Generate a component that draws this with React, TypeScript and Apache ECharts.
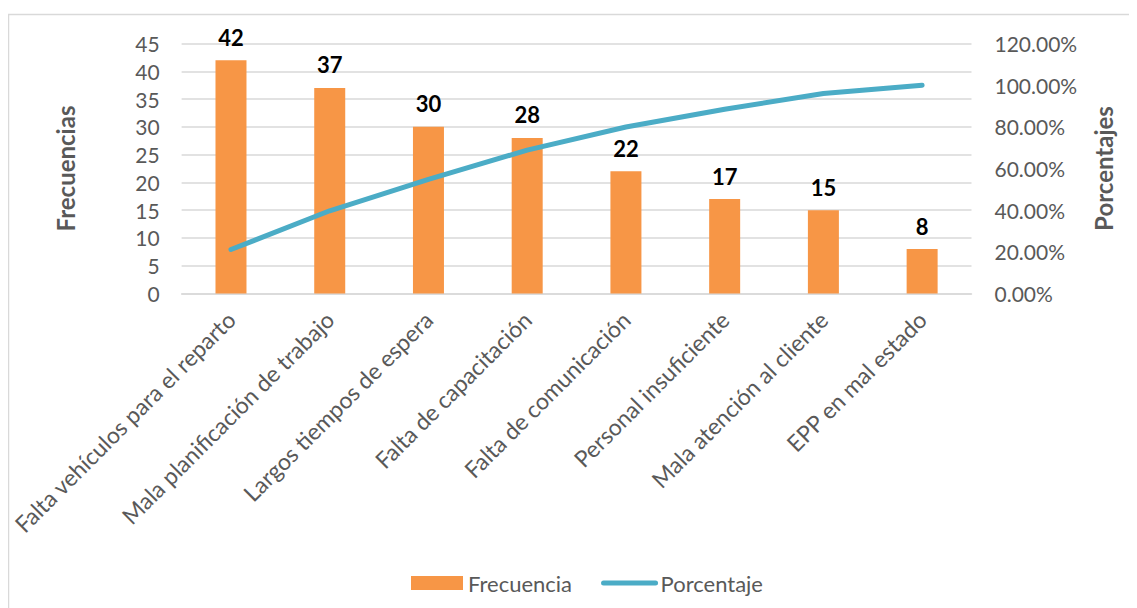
import React, { useEffect, useRef } from "react";
import * as echarts from "echarts";

const categories = [
  "Falta vehículos para el reparto",
  "Mala planificación de trabajo",
  "Largos tiempos de espera",
  "Falta de capacitación",
  "Falta de comunicación",
  "Personal insuficiente",
  "Mala atención al cliente",
  "EPP en mal estado",
];
const frecuencia = [42, 37, 30, 28, 22, 17, 15, 8];
const porcentaje = [0.2111, 0.397, 0.5477, 0.6884, 0.799, 0.8844, 0.9598, 1.0];

const FONT = "Lato, 'Noto Sans', sans-serif";
const GREY = "#595959";

export default function App() {
  const ref = useRef<HTMLDivElement>(null);
  useEffect(() => {
    document.body.style.overflow = "hidden";
    const chart = echarts.init(ref.current!, null, { renderer: "svg" });
    chart.setOption({
      animation: false,
      textStyle: { fontFamily: FONT },
      graphic: [
        {
          type: "rect",
          shape: { x: 0.5, y: 6.5, width: 1200, height: 800 },
          style: { fill: "none", stroke: "#D9D9D9", lineWidth: 1.5 },
          silent: true,
          z: -10,
        },
      ],
      grid: { left: 169.5, top: 35.5, width: 794, height: 250 },
      legend: {
        top: 559,
        left: 398,
        itemWidth: 52,
        itemHeight: 14,
        itemGap: 29,
        textStyle: { color: GREY, fontSize: 22, fontFamily: FONT },
        data: [
          { name: "Frecuencia", icon: "rect" },
          {
            name: "Porcentaje",
            itemStyle: { opacity: 0 },
            lineStyle: { width: 5, color: "#4BACC6", cap: "round" },
          },
        ],
      },
      xAxis: {
        type: "category",
        data: categories,
        axisLine: { lineStyle: { color: "#D9D9D9", width: 1.5 } },
        axisTick: { show: false },
        axisLabel: {
          rotate: 45,
          interval: 0,
          margin: 22,
          color: GREY,
          fontSize: 23,
          fontFamily: FONT,
        },
      },
      yAxis: [
        {
          type: "value",
          min: 0,
          max: 45,
          interval: 5,
          name: "Frecuencias",
          nameLocation: "middle",
          nameGap: 104,
          nameTextStyle: { color: GREY, fontSize: 24, fontWeight: "bold", fontFamily: FONT },
          axisLine: { show: false },
          axisTick: { show: false },
          axisLabel: { color: GREY, fontSize: 21, margin: 22, fontFamily: FONT },
          splitLine: { lineStyle: { color: "#D9D9D9", width: 1.5 } },
        },
        {
          type: "value",
          min: 0,
          max: 1.2,
          interval: 0.2,
          name: "Porcentajes",
          nameLocation: "middle",
          nameGap: 120,
          nameTextStyle: { color: GREY, fontSize: 24, fontWeight: "bold", fontFamily: FONT },
          axisLine: { show: false },
          axisTick: { show: false },
          axisLabel: {
            color: GREY,
            fontSize: 21,
            margin: 23,
            fontFamily: FONT,
            formatter: (v: number) => (v * 100).toFixed(2) + "%",
          },
          splitLine: { show: false },
        },
      ],
      series: [
        {
          name: "Frecuencia",
          type: "bar",
          data: frecuencia,
          barWidth: 31,
          itemStyle: { color: "#F79646" },
          label: {
            show: true,
            position: "top",
            distance: 12,
            color: "#000000",
            fontSize: 22,
            fontWeight: "bold",
            fontFamily: FONT,
          },
        },
        {
          name: "Porcentaje",
          type: "line",
          yAxisIndex: 1,
          data: porcentaje,
          symbol: "none",
          showSymbol: false,
          lineStyle: { color: "#4BACC6", width: 5, cap: "round" },
          itemStyle: { color: "#4BACC6" },
          z: 3,
        },
      ],
    });
    return () => chart.dispose();
  }, []);
  return <div ref={ref} style={{ width: 1129, height: 600 }} />;
}
